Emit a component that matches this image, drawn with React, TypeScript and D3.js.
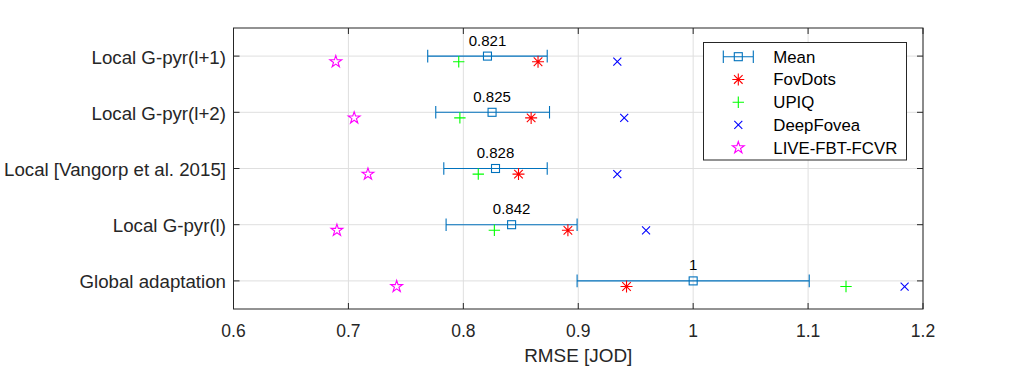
import * as d3 from "d3";

// categories, bottom row last
const methods = [
  "Local G-pyr(l+1)",
  "Local G-pyr(l+2)",
  "Local [Vangorp et al. 2015]",
  "Local G-pyr(l)",
  "Global adaptation",
];
const meanVals = [0.821, 0.825, 0.828, 0.842, 1];
const errLow = [0.769, 0.776, 0.783, 0.785, 0.899];
const errHigh = [0.873, 0.875, 0.873, 0.899, 1.101];
const fovDots = [0.865, 0.859, 0.848, 0.891, 0.942];
const upiq = [0.796, 0.797, 0.813, 0.827, 1.133];
const deepFovea = [0.934, 0.94, 0.934, 0.959, 1.184];
const liveFbt = [0.689, 0.705, 0.717, 0.69, 0.742];
const xTicks = [0.6, 0.7, 0.8, 0.9, 1, 1.1, 1.2];

const W = 1020;
const H = 369;
const PLOT = { left: 233.5, right: 923, top: 28, bottom: 309 };
const FONT = "'Liberation Sans', Arial, Helvetica, sans-serif";
const AXIS = "#262626";
const GRID = "#dfdfdf";
const MEAN_C = "#0072bd";
const OFFSET = 0.1; // markers drawn slightly below the mean row

type Kind = "asterisk" | "plus" | "cross" | "star" | "square";

function pentagram(r: number) {
  const pts: [number, number][] = [];
  for (let i = 0; i < 10; i++) {
    const rr = i % 2 === 0 ? r : r * 0.382;
    const a = -Math.PI / 2 + (i * Math.PI) / 5;
    pts.push([rr * Math.cos(a), rr * Math.sin(a)]);
  }
  return "M" + pts.map((p) => p.join(",")).join("L") + "Z";
}

function Marker({ kind, x, y, color }: { kind: Kind; x: number; y: number; color: string }) {
  const common = { stroke: color, fill: "none", strokeWidth: 1.1 };
  if (kind === "square") {
    return <rect x={x - 4} y={y - 4} width={8} height={8} {...common} />;
  }
  if (kind === "plus") {
    const s = 5.7;
    return <path d={`M${x - s},${y}H${x + s}M${x},${y - s}V${y + s}`} {...common} />;
  }
  if (kind === "cross") {
    const s = 4;
    return <path d={`M${x - s},${y - s}L${x + s},${y + s}M${x - s},${y + s}L${x + s},${y - s}`} {...common} />;
  }
  if (kind === "asterisk") {
    const s = 6;
    const d = 4.3;
    return (
      <path
        d={`M${x - s},${y}H${x + s}M${x},${y - s}V${y + s}M${x - d},${y - d}L${x + d},${y + d}M${x - d},${y + d}L${x + d},${y - d}`}
        {...common}
      />
    );
  }
  return <path d={pentagram(6.2)} transform={`translate(${x},${y})`} {...common} />;
}

const series: { name: string; values: number[]; kind: Kind; color: string }[] = [
  { name: "FovDots", values: fovDots, kind: "asterisk", color: "#ff0000" },
  { name: "UPIQ", values: upiq, kind: "plus", color: "#00ff00" },
  { name: "DeepFovea", values: deepFovea, kind: "cross", color: "#0000ff" },
  { name: "LIVE-FBT-FCVR", values: liveFbt, kind: "star", color: "#ff00ff" },
];

export default function App() {
  const x = d3.scaleLinear().domain([0.6, 1.2]).range([PLOT.left, PLOT.right]);
  const y = d3.scaleLinear().domain([0.5, methods.length + 0.5]).range([PLOT.top, PLOT.bottom]);
  const fmt = d3.format(".3~f");
  const rows = methods.map((_, i) => i + 1);

  const legX = 703.5;
  const legY = 42.5;
  const legW = 203;
  const legH = 117.5;
  const legRow = 22.75;

  return (
    <div style={{ position: "absolute", left: 0, top: 0 }}>
      <svg width={W} height={H} style={{ display: "block", background: "#fff" }} fontFamily={FONT}>
        {/* grid */}
        {xTicks.map((t) => (
          <line key={"gx" + t} x1={x(t)} x2={x(t)} y1={PLOT.top} y2={PLOT.bottom} stroke={GRID} />
        ))}
        {rows.map((r) => (
          <line key={"gy" + r} x1={PLOT.left} x2={PLOT.right} y1={y(r)} y2={y(r)} stroke={GRID} />
        ))}

        {/* mean with error bars */}
        {rows.map((r, i) => (
          <g key={"m" + r}>
            <path
              d={`M${x(errLow[i])},${y(r)}H${x(errHigh[i])}M${x(errLow[i])},${y(r) - 6.3}V${y(r) + 6.3}M${x(errHigh[i])},${y(r) - 6.3}V${y(r) + 6.3}`}
              stroke={MEAN_C}
              strokeWidth={1.1}
              fill="none"
            />
            <Marker kind="square" x={x(meanVals[i])} y={y(r)} color={MEAN_C} />
            <text x={x(meanVals[i])} y={y(r) - 10.6} fontSize={15} textAnchor="middle" fill="#000">
              {fmt(meanVals[i])}
            </text>
          </g>
        ))}

        {/* other metrics */}
        {series.map((s) =>
          rows.map((r, i) => (
            <Marker key={s.name + r} kind={s.kind} x={x(s.values[i])} y={y(r + OFFSET)} color={s.color} />
          ))
        )}

        {/* axes box */}
        <rect
          x={PLOT.left}
          y={PLOT.top}
          width={PLOT.right - PLOT.left}
          height={PLOT.bottom - PLOT.top}
          fill="none"
          stroke={AXIS}
          strokeWidth={1}
        />
        {xTicks.map((t) => (
          <g key={"tx" + t}>
            <line x1={x(t)} x2={x(t)} y1={PLOT.bottom} y2={PLOT.bottom - 6} stroke={AXIS} />
            <line x1={x(t)} x2={x(t)} y1={PLOT.top} y2={PLOT.top + 6} stroke={AXIS} />
            <text x={x(t)} y={337} fontSize={17.5} textAnchor="middle" fill={AXIS}>
              {d3.format("~g")(t)}
            </text>
          </g>
        ))}
        {rows.map((r, i) => (
          <g key={"ty" + r}>
            <line x1={PLOT.left} x2={PLOT.left + 6} y1={y(r)} y2={y(r)} stroke={AXIS} />
            <line x1={PLOT.right} x2={PLOT.right - 6} y1={y(r)} y2={y(r)} stroke={AXIS} />
            <text x={226} y={y(r) + 7.5} fontSize={18.7} textAnchor="end" fill={AXIS}>
              {methods[i]}
            </text>
          </g>
        ))}
        <text x={(PLOT.left + PLOT.right) / 2} y={362} fontSize={18.9} textAnchor="middle" fill={AXIS}>
          RMSE [JOD]
        </text>

        {/* legend */}
        <rect x={legX} y={legY} width={legW} height={legH} fill="#fff" stroke={AXIS} strokeWidth={1} />
        {[{ name: "Mean", kind: "square" as Kind, color: MEAN_C }, ...series].map((s, i) => {
          const ly = legY + 14.2 + i * legRow;
          return (
            <g key={"lg" + s.name}>
              {s.name === "Mean" && (
                <path
                  d={`M723.3,${ly}H753.3M723.3,${ly - 6.3}V${ly + 6.3}M753.3,${ly - 6.3}V${ly + 6.3}`}
                  stroke={MEAN_C}
                  strokeWidth={1.1}
                />
              )}
              <Marker kind={s.kind} x={738.3} y={ly} color={s.color} />
              <text x={773.3} y={ly + 6} fontSize={16.8} fill="#000">
                {s.name}
              </text>
            </g>
          );
        })}
      </svg>
    </div>
  );
}
